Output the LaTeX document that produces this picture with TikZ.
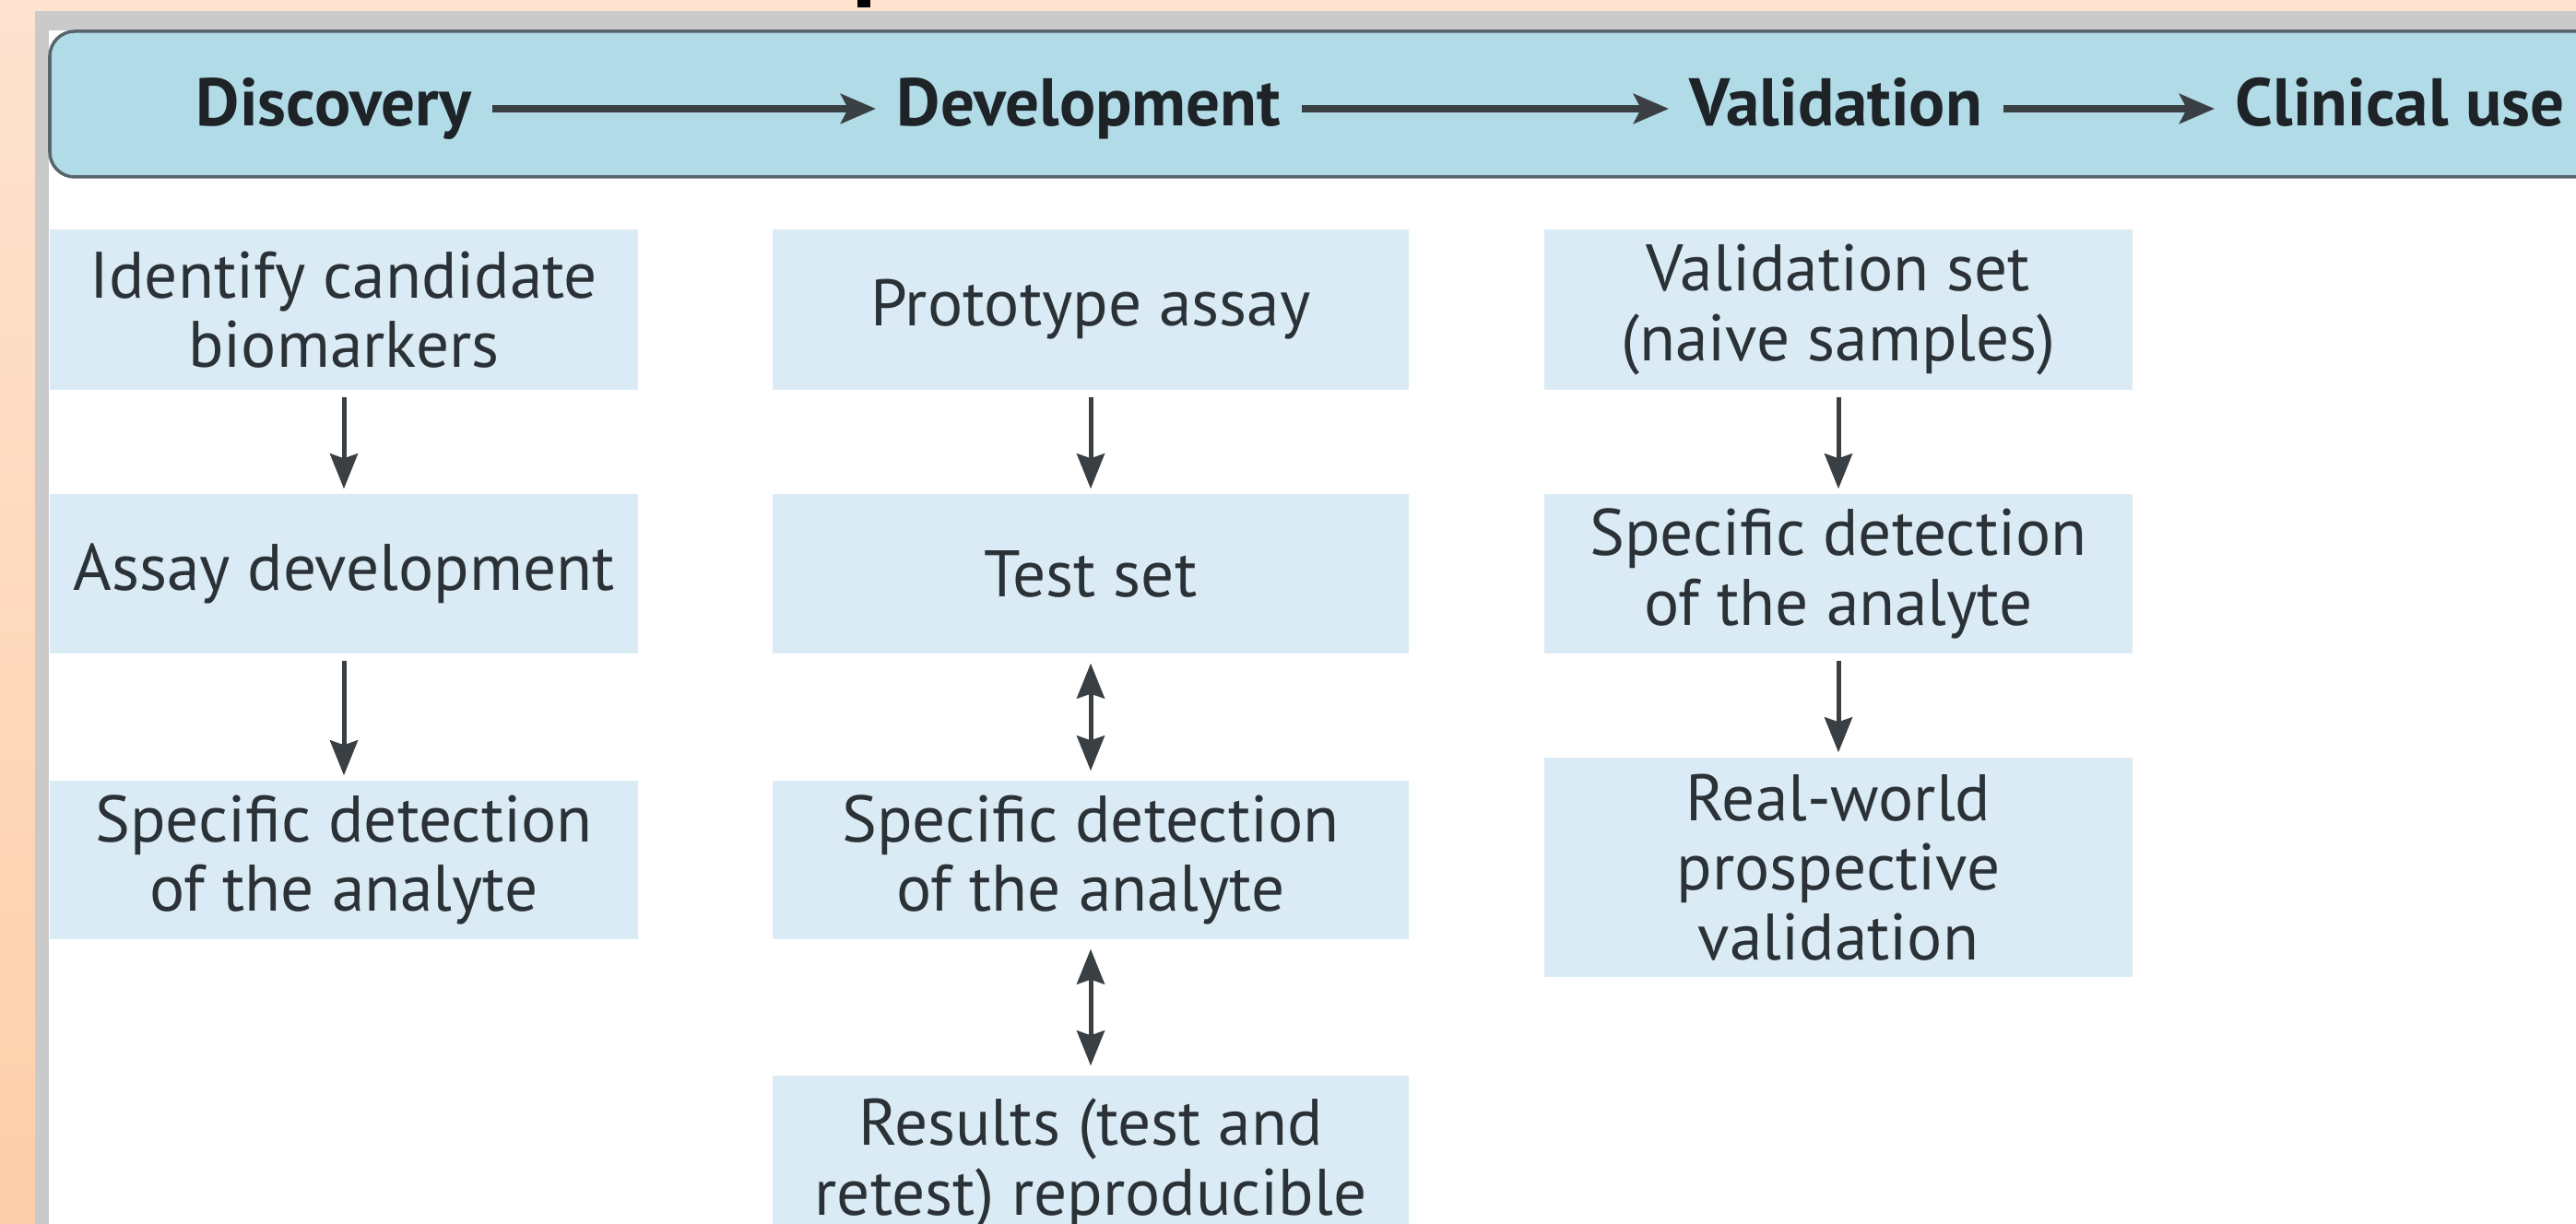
\documentclass[tikz,border=0pt]{standalone}
\usepackage{fontspec}
\setmainfont{PT Sans}
\usepackage{tikz}
\usetikzlibrary{arrows.meta, positioning}
\definecolor{peachtop}{HTML}{FEE3D0}
\definecolor{peachbot}{HTML}{FDCFAA}
\definecolor{framegrey}{HTML}{CACACA}
\definecolor{barblue}{HTML}{B1DBE7}
\definecolor{barline}{HTML}{56656C}
\definecolor{boxblue}{HTML}{DAEBF5}
\definecolor{inkcol}{HTML}{2B3237}
\definecolor{arrcol}{HTML}{3A3F43}

\begin{document}
\begin{tikzpicture}[
  stagebox/.style={fill=boxblue, text=inkcol, align=center, inner sep=0pt,
    minimum width=6.38cm, minimum height=1.73cm,
    font=\fontsize{20.3}{21.5}\selectfont},
  phase/.style={text=inkcol!70!black, anchor=west, inner xsep=0.22cm, inner ysep=0pt,
    text height=0.50cm, text depth=0.12cm, font=\fontsize{20.8}{23}\selectfont\bfseries},
  phasearrow/.style={-{Stealth[length=0.38cm, width=0.32cm, inset=0.08cm]},
    arrcol, line width=0.08cm},
  flow/.style={-{Stealth[length=0.38cm, width=0.30cm, inset=0.05cm]},
    arrcol, line width=0.05cm, shorten <=0.07cm, shorten >=0.05cm},
  flowboth/.style={{Stealth[length=0.38cm, width=0.30cm, inset=0.05cm]}-{Stealth[length=0.38cm, width=0.30cm, inset=0.05cm]},
    arrcol, line width=0.05cm, shorten <=0.1cm, shorten >=0.1cm}
]
\useasboundingbox (0,0) rectangle (27.94,-13.28);

% screenshot frame
\shade[top color=peachtop, bottom color=peachbot] (0,0) rectangle (27.94,-13.28);
\fill[framegrey] (0.38,-0.12) rectangle (27.94,-13.28);
\fill[white] (0.53,-0.33) rectangle (27.94,-13.28);
\fill[black] (9.30,0) rectangle (9.44,-0.08);

% phase bar
\draw[barline, fill=barblue, line width=0.035cm, rounded corners=0.27cm]
  (0.54,-0.34) rectangle (28.6,-1.92);
\node[phase] (disc)  at (1.90,-1.18)  {Discovery};
\node[phase] (devel) at (9.50,-1.18)  {Development};
\node[phase] (valid) at (18.10,-1.18) {Validation};
\node[phase] (clin)  at (24.02,-1.18) {Clinical use};
\draw[phasearrow] (disc.east) -- (devel.west);
\draw[phasearrow] (devel.east) -- (valid.west);
\draw[phasearrow] (valid.east) -- (clin.west);

% discovery
\node[stagebox, minimum height=1.74cm] (ident) at (3.73,-3.36) {Identify candidate\\biomarkers};
\node[stagebox] (assay) at (3.73,-6.225) {Assay development};
\node[stagebox, minimum height=1.72cm] (detA) at (3.73,-9.33) {Specific detection\\of the analyte};
\draw[flow] (ident) -- (assay);
\draw[flow] (assay) -- (detA);

% development
\node[stagebox, minimum width=6.90cm, minimum height=1.74cm] (proto) at (11.83,-3.36) {Prototype assay};
\node[stagebox, minimum width=6.90cm] (tset) at (11.83,-6.225) {Test set};
\node[stagebox, minimum width=6.90cm, minimum height=1.72cm] (detB) at (11.83,-9.33) {Specific detection\\of the analyte};
\node[stagebox, minimum width=6.90cm, minimum height=1.92cm] (retest) at (11.83,-12.63) {Results (test and\\retest) reproducible};
\draw[flow] (proto) -- (tset);
\draw[flowboth] (tset) -- (detB);
\draw[flowboth] (detB) -- (retest);

% validation
\node[stagebox, minimum height=1.74cm] (vset) at (19.94,-3.36) {Validation set\\(naive samples)};
\node[stagebox] (detC) at (19.94,-6.225) {Specific detection\\of the analyte};
\node[stagebox, minimum height=2.38cm] (real) at (19.94,-9.41) {Real-world\\prospective\\validation};
\draw[flow] (vset) -- (detC);
\draw[flow] (detC) -- (real);

\end{tikzpicture}
\end{document}
